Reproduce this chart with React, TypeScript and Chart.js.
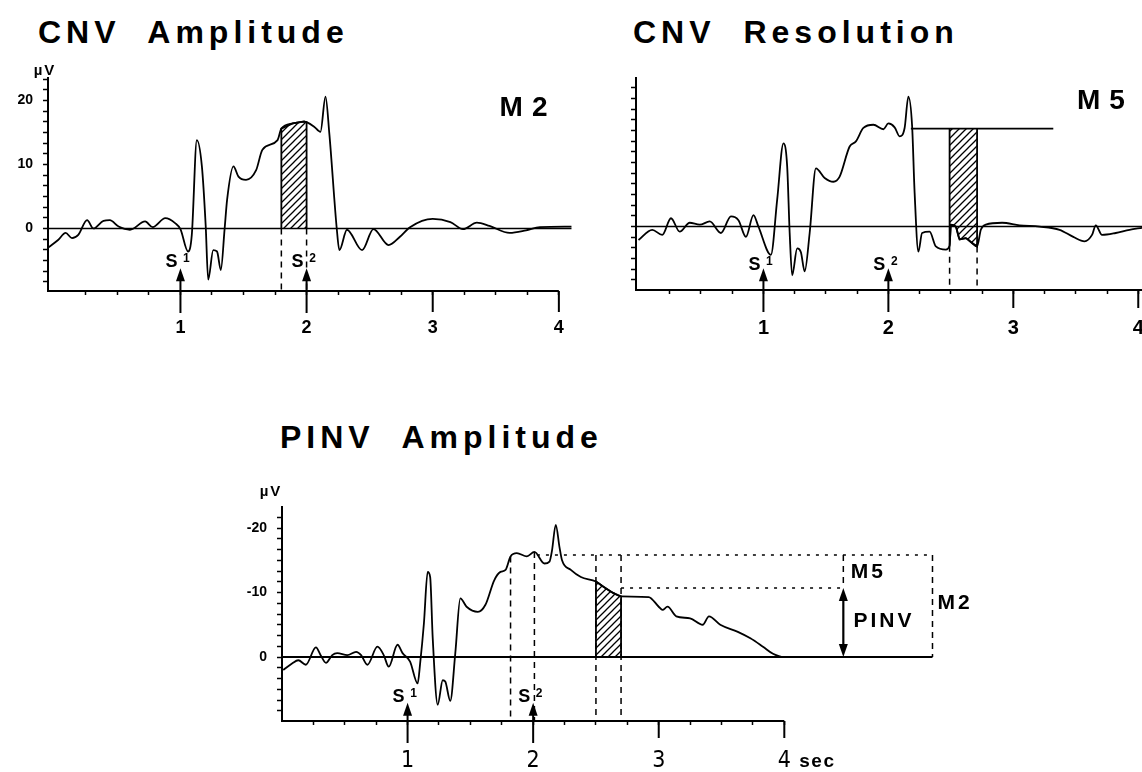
import React, { useEffect, useRef } from "react";
import { Chart, registerables } from "chart.js";

Chart.register(...registerables);

type Pt = [number, number];

/* ---------------- values (time in s, amplitude in µV) ---------------- */

// CNV Amplitude panel (M2) – plotted with the CNV upward, as in the figure
const cnvAmplitudeTrace: Pt[] = [
  [-0.05, -3.0], [0.03, -1.8], [0.09, -0.7], [0.14, -1.5], [0.19, -1.0], [0.26, 1.3], [0.31, 0.0],
  [0.39, 1.2], [0.44, 1.3], [0.51, 0.3], [0.6, -0.2], [0.72, 1.1], [0.78, 0.2], [0.88, 1.6],
  [0.96, 0.8], [1.0, -0.1], [1.06, -3.6], [1.09, -1.0], [1.13, 13.8], [1.17, 9.7], [1.2, 0.5],
  [1.22, -8.0], [1.26, -3.4], [1.29, -3.6], [1.32, -6.5], [1.35, -0.1], [1.37, 4.5], [1.42, 9.7],
  [1.46, 8.1], [1.52, 7.6], [1.6, 9.1], [1.65, 12.3], [1.77, 13.8], [1.8, 15.6], [1.89, 16.4],
  [1.98, 16.7], [2.0, 16.6], [2.06, 15.9], [2.11, 15.1], [2.15, 20.6], [2.18, 14.9], [2.24, -0.2],
  [2.26, -3.4], [2.32, -0.2], [2.44, -3.4], [2.53, -0.1], [2.65, -2.6], [2.74, -1.3], [2.82, 0.2],
  [3.0, 1.5], [3.14, 1.0], [3.24, -0.1], [3.35, 0.9], [3.45, 0.4], [3.61, -0.7], [3.74, -0.3],
  [3.85, 0.2], [4.1, 0.3],
];
const cnvAmplitudeBaseline: [number, number] = [-0.05, 4.1];
const m2Window: [number, number] = [1.8, 2.0];

// CNV Resolution panel (M5)
const cnvResolutionTrace: Pt[] = [
  [0.0, -2.1], [0.11, -0.5], [0.19, -1.3], [0.26, 1.3], [0.33, -0.8], [0.41, 0.6], [0.49, 0.3],
  [0.57, 0.8], [0.66, -1.0], [0.74, 1.6], [0.8, 1.0], [0.86, -1.6], [0.92, 1.8], [0.96, 0.0],
  [1.06, -4.4], [1.11, 4.2], [1.16, 13.0], [1.19, 9.4], [1.21, -1.0], [1.23, -7.6], [1.27, -3.4],
  [1.3, -4.0], [1.33, -7.0], [1.37, -1.0], [1.42, 9.1], [1.49, 7.6], [1.56, 7.0], [1.61, 7.8],
  [1.69, 12.5], [1.74, 13.3], [1.8, 15.4], [1.88, 15.9], [1.96, 15.2], [2.0, 16.1], [2.05, 15.5],
  [2.09, 14.1], [2.13, 15.4], [2.16, 20.3], [2.19, 15.7], [2.21, 5.3], [2.24, -3.9], [2.27, -1.0],
  [2.33, -0.8], [2.38, -3.1], [2.46, -3.6], [2.49, -3.0], [2.5, 0.3], [2.54, 0.0], [2.57, -2.0],
  [2.62, -1.8], [2.66, -2.4], [2.71, -3.1], [2.74, -0.5], [2.78, 0.3], [2.91, 0.6], [3.05, 0.2],
  [3.21, 0.0], [3.37, -0.5], [3.48, -1.6], [3.57, -2.3], [3.63, -1.3], [3.66, 0.2], [3.71, -1.3],
  [3.82, -1.0], [3.93, -0.5], [4.03, -0.2],
];
const cnvResolutionBaseline: [number, number] = [-0.02, 4.03];
const m5Window: [number, number] = [2.49, 2.71];
const m5ReferenceLevel = 15.3;
const m5ReferenceSpan: [number, number] = [2.18, 3.32];

// PINV Amplitude panel (true sign: negative µV up)
const pinvTrace: Pt[] = [
  [0.01, 2.0], [0.08, 1.0], [0.13, 0.5], [0.19, 1.2], [0.27, -1.5], [0.31, -0.2], [0.35, 0.9],
  [0.4, -0.3], [0.44, -0.6], [0.52, -0.3], [0.59, -0.8], [0.63, -0.3], [0.68, 1.2], [0.76, -1.6],
  [0.81, -0.3], [0.85, 1.5], [0.92, -1.9], [0.96, -0.6], [1.02, 0.7], [1.08, 4.1], [1.1, 1.0],
  [1.13, -5.2], [1.16, -13.2], [1.18, -12.4], [1.2, -3.0], [1.24, 7.4], [1.28, 3.6], [1.3, 3.8],
  [1.34, 6.8], [1.38, -0.6], [1.42, -9.1], [1.47, -7.8], [1.56, -7.0], [1.62, -8.1], [1.69, -11.9],
  [1.74, -13.2], [1.78, -13.5], [1.82, -15.6], [1.87, -16.1], [1.95, -15.6], [2.01, -16.3],
  [2.09, -14.5], [2.13, -14.8], [2.15, -16.5], [2.18, -20.5], [2.21, -17.0], [2.23, -15.0],
  [2.3, -13.5], [2.38, -12.4], [2.5, -11.7], [2.56, -10.9], [2.64, -9.9], [2.7, -9.4], [2.92, -9.3],
  [3.0, -7.8], [3.03, -7.3], [3.07, -7.8], [3.14, -6.3], [3.25, -6.0], [3.35, -5.0], [3.4, -6.3],
  [3.49, -5.0], [3.63, -3.9], [3.73, -2.9], [3.83, -1.6], [3.91, -0.5], [3.98, 0.0],
];
const pinvBaseline: [number, number] = [0, 5.18];
const pinvM2Window: [number, number] = [1.82, 2.01];
const pinvM5Window: [number, number] = [2.5, 2.7];
const pinvM2Level = -15.8;
const pinvM2Span: [number, number] = [2.03, 5.18];
const pinvM5Level = -10.7;
const pinvM5Span: [number, number] = [2.7, 4.47];

const stimulusTimes = [1, 2];
const stimulusIndices = ["1", "2"];
const secondTickLabels = [1, 2, 3, 4];
const majorTickTimes = [3, 4];
const yLabelEvery = 10;
const yMinorStep = 10 / 6;
const xMinorStep = 0.25;

/* ---------------- helpers ---------------- */

const FONT = "'Liberation Sans', Arial, Helvetica, sans-serif";
const NARROW = "'Liberation Sans Narrow', 'DejaVu Sans Condensed', 'Liberation Sans', sans-serif";

const xy = (tr: Pt[]) => tr.map(([x, y]) => ({ x, y }));

function valueAt(tr: Pt[], t: number) {
  for (let i = 0; i < tr.length - 1; i++) {
    const [x0, y0] = tr[i];
    const [x1, y1] = tr[i + 1];
    if (t >= x0 && t <= x1) return y0 + ((y1 - y0) * (t - x0)) / (x1 - x0);
  }
  return tr[tr.length - 1][1];
}

function hatchPolygon(tr: Pt[], win: [number, number], base: number) {
  const inner = tr.filter(([t]) => t >= win[0] - 1e-9 && t <= win[1] + 1e-9).map(([x, y]) => ({ x, y }));
  return [{ x: win[0], y: base }, ...inner, { x: win[1], y: base }];
}

function seg(data: any[], extra: any = {}) {
  return { data, borderColor: "#000", borderWidth: 1.5, pointRadius: 0, fill: false, tension: 0, ...extra };
}

function stepTicks(lo: number, hi: number, step: number) {
  const out: number[] = [];
  for (let k = Math.ceil(lo / step - 1e-9); k * step <= hi + 1e-9; k++) out.push(+(k * step).toFixed(4));
  return out;
}

function makeHatchPattern(target: HTMLCanvasElement) {
  const tile = document.createElement("canvas");
  tile.width = 7;
  tile.height = 7;
  const g = tile.getContext("2d")!;
  g.strokeStyle = "#000";
  g.lineWidth = 1.3;
  g.beginPath();
  g.moveTo(-1, 8); g.lineTo(8, -1);
  g.moveTo(-1, 1); g.lineTo(1, -1);
  g.moveTo(6, 8); g.lineTo(8, 6);
  g.stroke();
  return target.getContext("2d")!.createPattern(tile, "repeat");
}

function head(ctx: CanvasRenderingContext2D, x: number, y: number, dir: number) {
  ctx.beginPath();
  ctx.moveTo(x, y);
  ctx.lineTo(x - 4.5, y - dir * 13);
  ctx.lineTo(x + 4.5, y - dir * 13);
  ctx.closePath();
  ctx.fill();
}

function text(ctx: any, s: string, x: number, y: number, font: string, ls: number, align = "left") {
  ctx.font = font;
  ctx.textAlign = align;
  ctx.textBaseline = "middle";
  ctx.letterSpacing = `${ls}px`;
  ctx.fillText(s, x, y);
  ctx.letterSpacing = "0px";
}

interface PanelAnnot {
  axisEnd: number;
  longTickLen: number;
  stemBelow: number;
  arrowTip: number;
  labelV: number;
  texts: { s: string; t: number; v: number; size: number; ls: number }[];
  unit?: { dx: number; dy: number; size: number };
  sec?: { dx: number; dy: number; size: number };
  doubleArrow?: { t: number; from: number; to: number };
}

function annotPlugin(cfg: PanelAnnot) {
  return {
    id: "panelAnnot",
    afterDatasetsDraw(chart: any) {
      const { ctx, chartArea: ca } = chart;
      const xs = chart.scales.x;
      const ys = chart.scales.y;
      const X = (t: number) => xs.getPixelForValue(t);
      const Y = (v: number) => ys.getPixelForValue(v);
      const base = ca.bottom;
      ctx.save();
      ctx.strokeStyle = "#000";
      ctx.fillStyle = "#000";
      ctx.lineWidth = 2;
      // x axis line up to the last second
      ctx.beginPath();
      ctx.moveTo(ca.left, base);
      ctx.lineTo(X(cfg.axisEnd), base);
      ctx.stroke();
      // long ticks at whole seconds
      for (const t of majorTickTimes) {
        ctx.beginPath();
        ctx.moveTo(X(t), base);
        ctx.lineTo(X(t), base + cfg.longTickLen);
        ctx.stroke();
      }
      // stimulus arrows S1 / S2
      stimulusTimes.forEach((t, i) => {
        const px = X(t);
        const tip = Y(cfg.arrowTip);
        ctx.lineWidth = 2;
        ctx.beginPath();
        ctx.moveTo(px, base + cfg.stemBelow);
        ctx.lineTo(px, tip + 10);
        ctx.stroke();
        head(ctx, px, tip, -1);
        const ly = Y(cfg.labelV);
        text(ctx, "S", px - 9, ly, `bold 18px ${FONT}`, 0, "center");
        text(ctx, stimulusIndices[i], px + 6, ly - 3, `bold 12px ${FONT}`, 0, "center");
      });
      if (cfg.doubleArrow) {
        const d = cfg.doubleArrow;
        const px = X(d.t);
        const y1 = Y(d.from);
        const y2 = Y(d.to);
        ctx.lineWidth = 2.2;
        ctx.beginPath();
        ctx.moveTo(px, y1 + 10);
        ctx.lineTo(px, y2 - 10);
        ctx.stroke();
        head(ctx, px, y1, -1);
        head(ctx, px, y2, 1);
      }
      for (const m of cfg.texts) text(ctx, m.s, X(m.t), Y(m.v), `bold ${m.size}px ${FONT}`, m.ls);
      if (cfg.unit) text(ctx, "µV", ca.left + cfg.unit.dx, ca.top + cfg.unit.dy, `bold ${cfg.unit.size}px ${FONT}`, 2, "center");
      if (cfg.sec) text(ctx, "sec", X(cfg.axisEnd) + cfg.sec.dx, base + cfg.sec.dy, `bold ${cfg.sec.size}px ${FONT}`, 1.5);
      ctx.restore();
    },
  };
}

interface PanelGeom {
  xMin: number; xMax: number; yMin: number; yMax: number; reverse?: boolean;
  padding: { left: number; right: number; top: number; bottom: number };
  yWidth: number; xHeight: number; yLabels: boolean;
  xFont: any; xPad: number;
}

function panelConfig(g: PanelGeom, datasets: any[], annot: PanelAnnot) {
  const yTicks = stepTicks(g.yMin, g.yMax, yMinorStep);
  const xTicks = stepTicks(xMinorStep, 4, xMinorStep);
  return {
    type: "line",
    data: { datasets },
    options: {
      animation: false,
      responsive: false,
      maintainAspectRatio: false,
      devicePixelRatio: 1,
      events: [],
      layout: { padding: g.padding, autoPadding: false },
      plugins: { legend: { display: false }, tooltip: { enabled: false }, title: { display: false } },
      scales: {
        x: {
          type: "linear",
          min: g.xMin,
          max: g.xMax,
          afterBuildTicks: (s: any) => { s.ticks = xTicks.map((value) => ({ value })); },
          afterFit: (s: any) => { s.height = g.xHeight; s.paddingLeft = 0; s.paddingRight = 0; },
          grid: { drawOnChartArea: false, drawTicks: true, tickLength: 4, tickWidth: 1.5, tickColor: "#000" },
          border: { display: false },
          ticks: {
            autoSkip: false,
            maxRotation: 0,
            padding: g.xPad,
            color: "#000",
            font: g.xFont,
            callback: (v: number) => (secondTickLabels.includes(v) ? String(v) : ""),
          },
        },
        y: {
          type: "linear",
          min: g.yMin,
          max: g.yMax,
          reverse: !!g.reverse,
          afterBuildTicks: (s: any) => { s.ticks = yTicks.map((value) => ({ value })); },
          afterFit: (s: any) => { s.width = g.yWidth; s.paddingTop = 0; s.paddingBottom = 0; },
          grid: { drawOnChartArea: false, drawTicks: true, tickLength: 5, tickWidth: 1.5, tickColor: "#000" },
          border: { display: true, color: "#000", width: 2 },
          ticks: {
            display: g.yLabels,
            autoSkip: false,
            padding: 10,
            color: "#000",
            font: { family: FONT, size: 14, weight: "bold" },
            callback: (v: number) =>
              Math.abs(v / yLabelEvery - Math.round(v / yLabelEvery)) < 1e-3 ? String(Math.round(v)) : "",
          },
        },
      },
    },
    plugins: [annotPlugin(annot)],
  };
}

const DASH_V = [6, 5];
const DASH_H = [3, 6];

function buildAmplitudePanel(pattern: any) {
  const g: PanelGeom = {
    xMin: -0.05, xMax: 4.12, yMin: -9.77, yMax: 23.5,
    padding: { left: 8, right: 16, top: 28, bottom: 19 }, yWidth: 40, xHeight: 50, yLabels: true,
    xFont: { family: FONT, size: 18, weight: "bold" }, xPad: 22,
  };
  const datasets = [
    seg(xy(cnvAmplitudeTrace), { borderWidth: 1.8, cubicInterpolationMode: "monotone" }),
    seg(hatchPolygon(cnvAmplitudeTrace, m2Window, 0), { fill: "origin", backgroundColor: pattern, borderWidth: 1.8 }),
    seg([{ x: cnvAmplitudeBaseline[0], y: 0 }, { x: cnvAmplitudeBaseline[1], y: 0 }], { borderWidth: 1.5 }),
    ...m2Window.map((t) => seg([{ x: t, y: 0 }, { x: t, y: g.yMin }], { borderDash: DASH_V })),
  ];
  return panelConfig(g, datasets, {
    axisEnd: 4, longTickLen: 21, stemBelow: 22, arrowTip: -6.2, labelV: -5.2,
    texts: [{ s: "M2", t: 3.53, v: 18.8, size: 28, ls: 9 }],
    unit: { dx: -3, dy: -7, size: 15 },
  });
}

function buildResolutionPanel(pattern: any) {
  const g: PanelGeom = {
    xMin: -0.02, xMax: 4.03, yMin: -9.9, yMax: 23.2,
    padding: { left: 6, right: 0, top: 28, bottom: 20 }, yWidth: 40, xHeight: 50, yLabels: false,
    xFont: { family: FONT, size: 20, weight: "bold" }, xPad: 22,
  };
  const datasets = [
    seg(xy(cnvResolutionTrace), { borderWidth: 1.8, cubicInterpolationMode: "monotone" }),
    seg(hatchPolygon(cnvResolutionTrace, m5Window, m5ReferenceLevel), {
      fill: { value: m5ReferenceLevel }, backgroundColor: pattern, borderWidth: 1.8,
    }),
    seg([{ x: cnvResolutionBaseline[0], y: 0 }, { x: cnvResolutionBaseline[1], y: 0 }], { borderWidth: 1.5 }),
    seg([{ x: m5ReferenceSpan[0], y: m5ReferenceLevel }, { x: m5ReferenceSpan[1], y: m5ReferenceLevel }], { borderWidth: 1.8 }),
    ...m5Window.map((t) => seg([{ x: t, y: valueAt(cnvResolutionTrace, t) }, { x: t, y: g.yMin }], { borderDash: DASH_V })),
  ];
  return panelConfig(g, datasets, {
    axisEnd: 4.03, longTickLen: 18, stemBelow: 22, arrowTip: -6.5, labelV: -6.0,
    texts: [{ s: "M5", t: 3.51, v: 19.5, size: 28, ls: 9 }],
  });
}

function buildPinvPanel(pattern: any) {
  const g: PanelGeom = {
    xMin: 0, xMax: 5.2, yMin: -23.26, yMax: 9.92, reverse: true,
    padding: { left: 32, right: 65, top: 37, bottom: 0 }, yWidth: 50, xHeight: 51, yLabels: true,
    xFont: { family: NARROW, size: 23, weight: "normal" }, xPad: 22,
  };
  const datasets = [
    seg(xy(pinvTrace), { borderWidth: 1.8, cubicInterpolationMode: "monotone" }),
    seg(hatchPolygon(pinvTrace, pinvM5Window, 0), { fill: "origin", backgroundColor: pattern, borderWidth: 1.8 }),
    seg([{ x: pinvBaseline[0], y: 0 }, { x: pinvBaseline[1], y: 0 }], { borderWidth: 1.8 }),
    seg([{ x: pinvM2Span[0], y: pinvM2Level }, { x: pinvM2Span[1], y: pinvM2Level }], { borderDash: DASH_H }),
    seg([{ x: pinvM5Span[0], y: pinvM5Level }, { x: pinvM5Span[1], y: pinvM5Level }], { borderDash: DASH_H }),
    seg([{ x: pinvM2Span[1], y: pinvM2Level }, { x: pinvM2Span[1], y: 0 }], { borderDash: DASH_V }),
    seg([{ x: pinvM5Span[1], y: pinvM2Level }, { x: pinvM5Span[1], y: pinvM5Level }], { borderDash: DASH_V }),
    ...pinvM2Window.map((t) => seg([{ x: t, y: valueAt(pinvTrace, t) }, { x: t, y: g.yMax }], { borderDash: DASH_V })),
    ...pinvM5Window.map((t) => seg([{ x: t, y: pinvM2Level }, { x: t, y: g.yMax }], { borderDash: DASH_V })),
  ];
  return panelConfig(g, datasets, {
    axisEnd: 4, longTickLen: 17, stemBelow: 22, arrowTip: 7.1, labelV: 6.2,
    texts: [
      { s: "M5", t: 4.53, v: -13.2, size: 21, ls: 3 },
      { s: "PINV", t: 4.55, v: -5.6, size: 21, ls: 3 },
      { s: "M2", t: 5.22, v: -8.4, size: 21, ls: 3 },
    ],
    unit: { dx: -11, dy: -15, size: 15 },
    sec: { dx: 15, dy: 41, size: 19 },
    doubleArrow: { t: pinvM5Span[1], from: pinvM5Level, to: 0 },
  });
}

/* ---------------- components ---------------- */

function PanelChart(props: { left: number; top: number; width: number; height: number; build: (p: any) => any }) {
  const ref = useRef<HTMLCanvasElement>(null);
  const { left, top, width, height, build } = props;
  useEffect(() => {
    const canvas = ref.current!;
    const pattern = makeHatchPattern(canvas);
    const chart = new Chart(canvas, build(pattern));
    return () => chart.destroy();
  }, [build]);
  return (
    <canvas
      ref={ref}
      width={width}
      height={height}
      style={{ position: "absolute", left, top, width, height, display: "block" }}
    />
  );
}

const titleStyle = (left: number, top: number): React.CSSProperties => ({
  position: "absolute",
  left,
  top,
  margin: 0,
  fontFamily: FONT,
  fontWeight: "bold",
  fontSize: 32,
  lineHeight: "32px",
  letterSpacing: "5px",
  wordSpacing: "14px",
  whiteSpace: "nowrap",
  color: "#000",
});

export default function App() {
  return (
    <div
      style={{ position: "absolute", left: 0, top: 0, width: 1142, height: 772, background: "#fff", overflow: "hidden" }}
    >
      <div style={titleStyle(38, 16)}>CNV Amplitude</div>
      <div style={titleStyle(633, 16)}>CNV Resolution</div>
      <div style={titleStyle(280, 421)}>PINV Amplitude</div>
      <PanelChart left={0} top={50} width={590} height={310} build={buildAmplitudePanel} />
      <PanelChart left={590} top={50} width={552} height={310} build={buildResolutionPanel} />
      <PanelChart left={200} top={470} width={800} height={302} build={buildPinvPanel} />
    </div>
  );
}
